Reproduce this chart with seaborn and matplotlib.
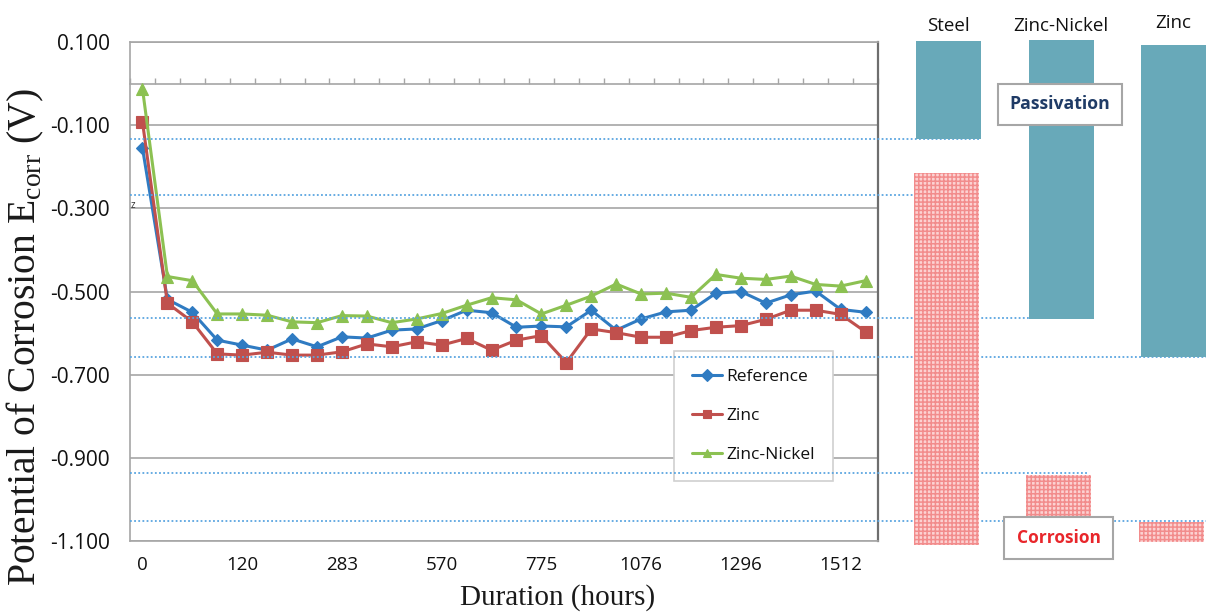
import numpy as np
import pandas as pd
import matplotlib
matplotlib.use("Agg")
import matplotlib.pyplot as plt
import matplotlib.transforms as mtransforms
from matplotlib.lines import Line2D
import seaborn as sns

# ---- data -----------------------------------------------------------------
n_points = 30
duration_ticks = [0, 4, 8, 12, 16, 20, 24, 28]
duration_labels = ["0", "120", "283", "570", "775", "1076", "1296", "1512"]

reference = [-0.155, -0.519, -0.550, -0.617, -0.629, -0.641, -0.614, -0.633, -0.609, -0.612,
             -0.593, -0.590, -0.570, -0.545, -0.551, -0.586, -0.583, -0.585, -0.545, -0.593,
             -0.566, -0.549, -0.545, -0.504, -0.500, -0.528, -0.508, -0.499, -0.543, -0.550]
zinc = [-0.092, -0.528, -0.573, -0.650, -0.653, -0.646, -0.653, -0.653, -0.645, -0.626,
        -0.633, -0.621, -0.629, -0.613, -0.641, -0.617, -0.606, -0.671, -0.590, -0.599,
        -0.610, -0.610, -0.594, -0.586, -0.582, -0.567, -0.545, -0.545, -0.555, -0.597]
zinc_nickel = [-0.012, -0.464, -0.474, -0.554, -0.554, -0.557, -0.573, -0.575, -0.558, -0.559,
               -0.575, -0.566, -0.553, -0.533, -0.515, -0.520, -0.554, -0.533, -0.511, -0.482,
               -0.506, -0.504, -0.514, -0.459, -0.468, -0.471, -0.463, -0.483, -0.487, -0.474]

y_ticks = [0.1, -0.1, -0.3, -0.5, -0.7, -0.9, -1.1]

# potential windows for each material (V)
materials = ["Steel", "Zinc-Nickel", "Zinc"]
passivation_top = [0.102, 0.105, 0.093]
passivation_bottom = [-0.133, -0.566, -0.657]
corrosion_top = [-0.215, -0.942, -1.055]
corrosion_bottom = [-1.110, -1.040, -1.103]

# dotted guide levels (V)
guide_levels = [-0.133, -0.268, -0.563, -0.658, -0.937, -1.052]

# ---- style ----------------------------------------------------------------
sns.set_theme(style="white")
plt.rcParams["font.family"] = ["Open Sans", "DejaVu Sans"]
plt.rcParams["hatch.linewidth"] = 1.1
plt.rcParams["mathtext.fontset"] = "custom"
plt.rcParams["mathtext.rm"] = "Liberation Serif"

TXT = "#111111"
W, H = 1206, 613
fig = plt.figure(figsize=(W / 100, H / 100), dpi=100)
fig.patch.set_facecolor("white")

def px_box(x0, x1, y_top, y_bot):
    return [x0 / W, 1 - y_bot / H, (x1 - x0) / W, (y_bot - y_top) / H]

ax = fig.add_axes(px_box(130, 878, 42, 541))
ax.set_zorder(0)

df = pd.DataFrame({
    "idx": np.arange(n_points),
    "Reference": reference,
    "Zinc": zinc,
    "Zinc-Nickel": zinc_nickel,
})

series_style = [
    ("Reference", "#2f7bc2", "D", 6.5),
    ("Zinc", "#c0504d", "s", 8.5),
    ("Zinc-Nickel", "#8cc152", "^", 9),
]
for name, col, mk, ms in series_style:
    sns.lineplot(data=df, x="idx", y=name, ax=ax, color=col, marker=mk,
                 markersize=ms, markeredgecolor=col, markeredgewidth=0.8,
                 linewidth=2.2, label=name, zorder=3)

ax.set_xlim(-0.5, n_points - 0.5)
ax.set_ylim(-1.1, 0.1)
ax.set_xticks(duration_ticks)
ax.set_xticklabels(duration_labels)
ax.set_yticks(y_ticks)
ax.set_yticklabels([f"{v:.3f}" for v in y_ticks])
ax.set_xlabel("")
ax.set_ylabel("")
ax.tick_params(axis="x", length=0, pad=11, labelsize=13.5, labelcolor=TXT)
ax.tick_params(axis="y", length=5.8, width=1.2, color="#a6a6a6", direction="out",
               pad=8.5, labelsize=15, labelcolor=TXT)
ax.grid(axis="y", color="#a6a6a6", linewidth=1.2)
ax.grid(axis="x", visible=False)
ax.set_axisbelow(True)
for side in ["left", "top", "bottom"]:
    ax.spines[side].set_color("#a6a6a6")
    ax.spines[side].set_linewidth(1.2)
ax.spines["right"].set_color("#6e6e6e")
ax.spines["right"].set_linewidth(1.6)

# horizontal axis line crossing at 0 V, with category tick marks
zero_loc = (0 - (-1.1)) / 1.2
sec = ax.secondary_xaxis(zero_loc)
sec.set_xticks(np.arange(-0.5, n_points, 1.0))
sec.set_xticklabels([])
sec.tick_params(axis="x", length=4.5, width=1.0, color="#a6a6a6", direction="out")
for sp in sec.spines.values():
    sp.set_color("#a6a6a6")
    sp.set_linewidth(1.2)

ax.text(-0.47, -0.292, "z", fontsize=7, color="#333333", ha="left", va="center")

leg = ax.legend(loc="upper left", bbox_to_anchor=(0.727, 0.381), frameon=True,
                fancybox=False, edgecolor="#d0d0d0", facecolor="white",
                fontsize=12.5, labelspacing=1.3, handlelength=1.75,
                handletextpad=0.2, borderpad=1.05, borderaxespad=0.0, framealpha=1)
leg.get_frame().set_linewidth(1.2)
for t in leg.get_texts():
    t.set_color(TXT)
for h in leg.legend_handles:
    h.set_markersize(6)

# axis titles
fig.text(25 / W, 1 - 337 / H, r"Potential of Corrosion E$_{\mathrm{corr}}$ (V)",
         rotation=90, ha="center", va="center", fontsize=28.5,
         family="Liberation Serif", color="#1a1a1a")
fig.text(558 / W, 1 - 598 / H, "Duration (hours)", ha="center", va="center",
         fontsize=21, family="Liberation Serif", color="#1a1a1a")

# ---- material windows panel -------------------------------------------------
rax = fig.add_axes(px_box(880, W, 42, 541))
rax.set_zorder(1)
rax.patch.set_visible(False)
x0_px, step_px = 948.5, 112.5
rax.set_xlim((880 - x0_px) / step_px, (W - x0_px) / step_px)
rax.set_ylim(-1.1, 0.1)
rax.axis("off")

bar_x = np.arange(len(materials))
bar_w = 65 / step_px
p_top = np.array(passivation_top)
p_bot = np.array(passivation_bottom)
c_top = np.array(corrosion_top)
c_bot = np.array(corrosion_bottom)
rax.bar(bar_x, p_top - p_bot, bottom=p_bot, width=bar_w, color="#68a9b9",
        linewidth=0, clip_on=False, zorder=2)
rax.bar(bar_x - 2.5 / step_px, c_top - c_bot, bottom=c_bot, width=bar_w,
        facecolor="#fcd2d2", edgecolor="#f28c8c", hatch="++++", linewidth=0,
        clip_on=False, zorder=2)

label_y = [0.138, 0.138, 0.146]
for xi, name, ly in zip(bar_x, materials, label_y):
    rax.text(xi, ly, name, ha="center", va="center", fontsize=13.5,
             color=TXT, clip_on=False)

rax.text(0.99, -0.050, "Passivation", ha="center", va="center", fontsize=12.7,
         fontweight="bold", color="#1f3b66", zorder=5,
         bbox=dict(boxstyle="square,pad=0.65", facecolor="white",
                   edgecolor="#a6a6a6", linewidth=1.5))
rax.text(0.978, -1.092, "Corrosion", ha="center", va="center", fontsize=12.5,
         fontweight="bold", color="#e8262b", zorder=5, clip_on=False,
         bbox=dict(boxstyle="square,pad=0.7", facecolor="white",
                   edgecolor="#a6a6a6", linewidth=1.5))

# dotted guides spanning the chart and the panel
guide_end_px = [981, 945, 1093, W, 1089, W]
guide_tf = mtransforms.blended_transform_factory(fig.transFigure, ax.transData)
for lvl, xe in zip(guide_levels, guide_end_px):
    fig.add_artist(Line2D([130 / W, xe / W], [lvl, lvl], transform=guide_tf,
                          color="#5aa5e0", linewidth=1.3,
                          linestyle=(0, (1.0, 1.3)), zorder=0.5))

fig.savefig("out.png", dpi=100, facecolor="white")
